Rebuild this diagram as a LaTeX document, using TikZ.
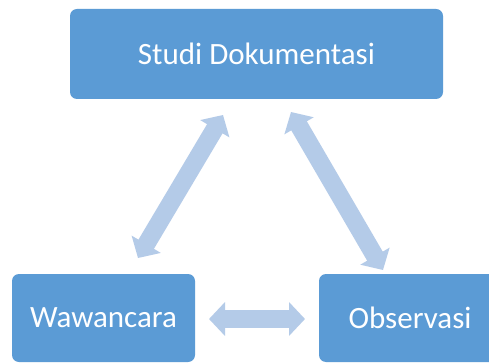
\documentclass[tikz,border=0pt]{standalone}
\usepackage{fontspec}
\setmainfont{Carlito}
\usetikzlibrary{arrows.meta}
\definecolor{boxblue}{HTML}{5B9BD5}
\definecolor{arrowblue}{HTML}{B4CBE8}
\tikzset{
  box/.style={fill=boxblue, draw=none, rounded corners=7pt, text=white,
    font=\fontsize{31}{37}\selectfont, inner sep=0pt, align=center},
  blockarrow/.style={draw=arrowblue, line width=18pt,
    {Triangle[length=16pt 0 0, width=33pt 0 0, fill=arrowblue]}-{Triangle[length=16pt 0 0, width=33pt 0 0, fill=arrowblue]}}
}
\begin{document}
\begin{tikzpicture}[x=1pt,y=1pt]
\clip (0,0) rectangle (489,-363);
\fill[white] (0,0) rectangle (489,-363);
\node[box, minimum width=373pt, minimum height=90pt] (studi) at (256.5,-54) {Studi Dokumentasi};
\node[box, minimum width=183pt, minimum height=88pt] (wawan) at (103.5,-318) {Wawancara};
\node[box, minimum width=182pt, minimum height=88pt] (obs) at (410,-318) {Observasi};
\coordinate (l1) at (138,-258);
\coordinate (l2) at (223,-115);
\coordinate (r1) at (291,-112);
\coordinate (r2) at (383,-270);
\coordinate (h1) at (209,-319);
\coordinate (h2) at (305,-319);
\draw[blockarrow] (l1) -- (l2);
\draw[blockarrow] (r1) -- (r2);
\draw[blockarrow] (h1) -- (h2);
\end{tikzpicture}
\end{document}
